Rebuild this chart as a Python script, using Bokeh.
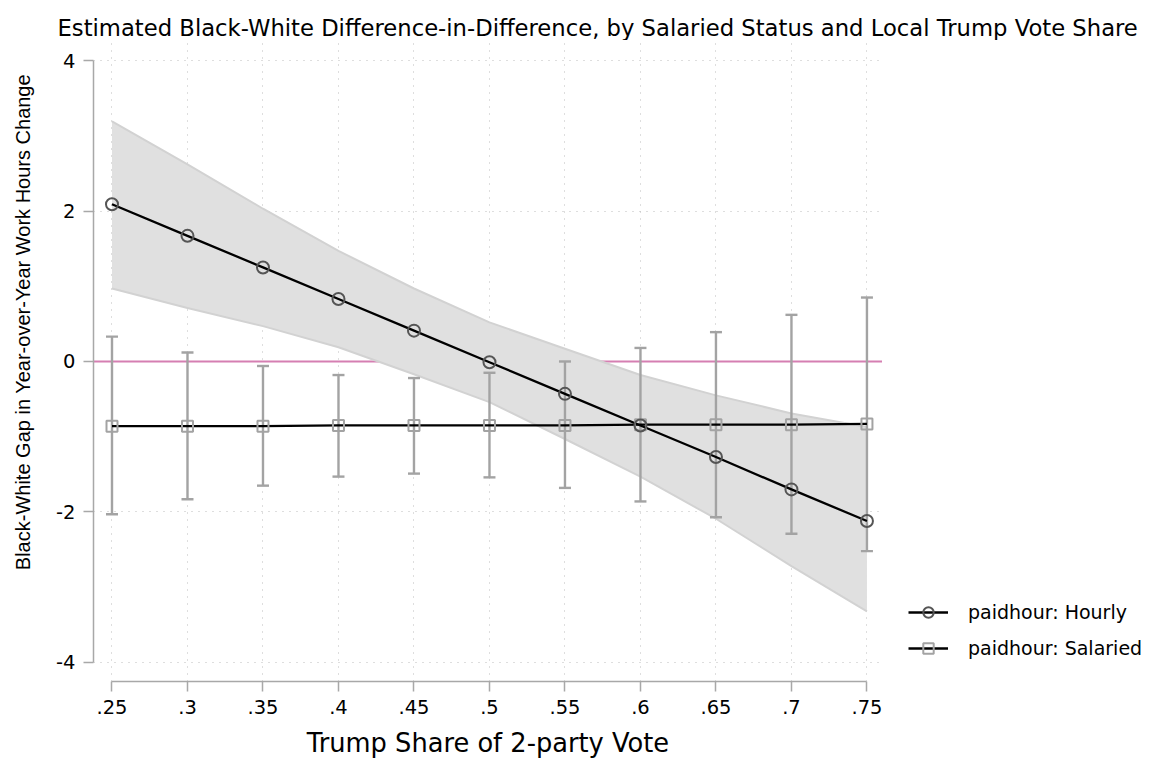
from bokeh.plotting import figure
from bokeh.layouts import row, column
from bokeh.models import Range1d, FixedTicker, Span, Legend, LegendItem, Title
from bokeh.embed import file_html
from bokeh.resources import INLINE

# ---- data ----
x_vals = [0.25, 0.30, 0.35, 0.40, 0.45, 0.50, 0.55, 0.60, 0.65, 0.70, 0.75]
x_tick_labels = [".25", ".3", ".35", ".4", ".45", ".5", ".55", ".6", ".65", ".7", ".75"]
y_ticks = [-4, -2, 0, 2, 4]
y_tick_labels = ["-4", "-2", "0", "2", "4"]

hourly = [2.09, 1.67, 1.25, 0.83, 0.41, -0.01, -0.43, -0.85, -1.27, -1.70, -2.12]
hourly_lo = [0.97, 0.71, 0.47, 0.19, -0.17, -0.54, -1.03, -1.53, -2.09, -2.72, -3.32]
hourly_hi = [3.19, 2.62, 2.03, 1.47, 0.97, 0.52, 0.17, -0.18, -0.45, -0.69, -0.87]

salaried = [-0.86, -0.86, -0.86, -0.85, -0.85, -0.85, -0.85, -0.84, -0.84, -0.84, -0.83]
salaried_lo = [-2.03, -1.83, -1.65, -1.53, -1.49, -1.54, -1.68, -1.86, -2.07, -2.29, -2.52]
salaried_hi = [0.33, 0.12, -0.06, -0.18, -0.22, -0.15, 0.00, 0.18, 0.39, 0.62, 0.85]

title_text = "Estimated Black-White Difference-in-Difference, by Salaried Status and Local Trump Vote Share"
x_label = "Trump Share of 2-party Vote"
y_label = "Black-White Gap in Year-over-Year Work Hours Change"
series_labels = ["paidhour: Hourly", "paidhour: Salaried"]

FONT = "DejaVu Sans"
AXIS_GRAY = "#a8a8a8"
BAR_GRAY = "#a3a3a3"
HOURLY_MARK = "#555555"
TOP_H = 40
MAIN_H = 720
LEFT_W = 93
FRAME_W = 789
RIGHT_W = 259
BOTTOM_B = 79

# ---- title strip ----
tfig = figure(width=LEFT_W + FRAME_W + RIGHT_W, height=TOP_H, output_backend="svg",
              toolbar_location=None, x_range=Range1d(0, 1), y_range=Range1d(0, 1),
              x_axis_location=None, y_axis_location=None,
              min_border_left=LEFT_W, min_border_right=RIGHT_W, min_border_top=0,
              min_border_bottom=0)
tfig.outline_line_color = None
tfig.grid.visible = False
tfig.add_layout(Title(text=title_text, text_font=FONT, text_font_size="22.7px",
                      text_font_style="normal", text_color="black", align="left",
                      offset=-36, standoff=0, vertical_align="bottom"), "below")

# ---- main plot ----
p = figure(width=LEFT_W + FRAME_W, height=MAIN_H, output_backend="svg", toolbar_location=None,
           x_range=Range1d(0.23775, 0.7603), y_range=Range1d(-4.253, 4.266),
           min_border_left=LEFT_W, min_border_right=0, min_border_top=0,
           min_border_bottom=BOTTOM_B)
p.outline_line_color = None
p.background_fill_color = "white"
p.border_fill_color = "white"

for ax in (p.xaxis[0], p.yaxis[0]):
    ax.axis_line_color = AXIS_GRAY
    ax.axis_line_width = 1.5
    ax.major_tick_line_color = AXIS_GRAY
    ax.major_tick_line_width = 1.5
    ax.major_tick_in = 0
    ax.major_tick_out = 10
    ax.minor_tick_line_color = None
    ax.major_label_text_font = FONT
    ax.major_label_text_font_size = "19.5px"
    ax.major_label_text_color = "black"
    ax.major_label_standoff = 8
    ax.axis_label_text_font_style = "normal"
    ax.axis_label_text_color = "black"

p.xaxis.ticker = FixedTicker(ticks=x_vals)
p.xaxis.major_label_overrides = {t: l for t, l in zip(x_vals, x_tick_labels)}
p.xaxis.bounds = (x_vals[0], x_vals[-1])
p.xaxis.axis_label = x_label
p.xaxis.axis_label_text_font = FONT
p.xaxis.axis_label_text_font_size = "25.7px"
p.xaxis.axis_label_standoff = 11

p.yaxis.ticker = FixedTicker(ticks=y_ticks)
p.yaxis.major_label_overrides = {t: l for t, l in zip(y_ticks, y_tick_labels)}
p.yaxis.bounds = (y_ticks[0], y_ticks[-1])
# leading no-break spaces shift the centred label up toward the reference position
p.yaxis.axis_label = "\u00a0" * 14 + y_label
p.yaxis.axis_label_text_font = "Liberation Sans"
p.yaxis.axis_label_text_font_size = "20px"
p.yaxis.axis_label_standoff = 19

p.xgrid.ticker = FixedTicker(ticks=x_vals)
p.ygrid.ticker = FixedTicker(ticks=y_ticks)
for g in (p.xgrid[0], p.ygrid[0]):
    g.grid_line_color = "#bdbdbd"
    g.grid_line_width = 1
    g.grid_line_dash = "1 6"

p.add_layout(Span(location=0, dimension="width", line_color="#d57fb2",
                  line_width=2, level="underlay"))

# CI band for hourly
p.varea(x=x_vals, y1=hourly_lo, y2=hourly_hi, fill_color="#e0e0e0")
p.line(x_vals, hourly_hi, line_color="#d2d2d2", line_width=2)
p.line(x_vals, hourly_lo, line_color="#d2d2d2", line_width=2)

# error bars for salaried
p.segment(x0=x_vals, y0=salaried_lo, x1=x_vals, y1=salaried_hi,
          line_color=BAR_GRAY, line_width=2.4)
p.scatter(x_vals, salaried_hi, marker="dash", size=12, line_color=BAR_GRAY, line_width=2.4)
p.scatter(x_vals, salaried_lo, marker="dash", size=12, line_color=BAR_GRAY, line_width=2.4)

# lines + markers
p.line(x_vals, hourly, line_color="black", line_width=2.3)
p.line(x_vals, salaried, line_color="black", line_width=2.3)
p.scatter(x_vals, salaried, marker="square", size=11, fill_color=None,
          line_color=BAR_GRAY, line_width=2)
p.scatter(x_vals, hourly, marker="circle", size=12, fill_color=None,
          line_color=HOURLY_MARK, line_width=2)

# ---- legend strip (its renderers hold the same series, kept outside the visible range) ----
leg = figure(width=RIGHT_W, height=MAIN_H, output_backend="svg", toolbar_location=None,
             x_range=Range1d(0, 1), y_range=Range1d(100, 101),
             x_axis_location=None, y_axis_location=None,
             min_border_left=0, min_border_right=0, min_border_top=0,
             min_border_bottom=BOTTOM_B)
leg.outline_line_color = None
leg.grid.visible = False
lh = leg.line(x_vals, hourly, line_color="black", line_width=2.3)
mh = leg.scatter(x_vals, hourly, marker="circle", fill_color=None,
                 line_color=HOURLY_MARK, line_width=2)
ls = leg.line(x_vals, salaried, line_color="black", line_width=2.3)
ms = leg.scatter(x_vals, salaried, marker="square", fill_color=None,
                 line_color=BAR_GRAY, line_width=2)
legend = Legend(items=[LegendItem(label=series_labels[0], renderers=[lh, mh]),
                       LegendItem(label=series_labels[1], renderers=[ls, ms])],
                location=(26, 20), glyph_width=40, glyph_height=26, label_height=26,
                spacing=10, padding=0, margin=0, border_line_color=None,
                background_fill_alpha=0, label_text_font=FONT, label_text_color="black",
                label_text_font_size="19px", label_standoff=20)
leg.add_layout(legend)

layout = column(tfig, row(p, leg, spacing=0), spacing=0)
open("out.html", "w").write(file_html(layout, INLINE))
